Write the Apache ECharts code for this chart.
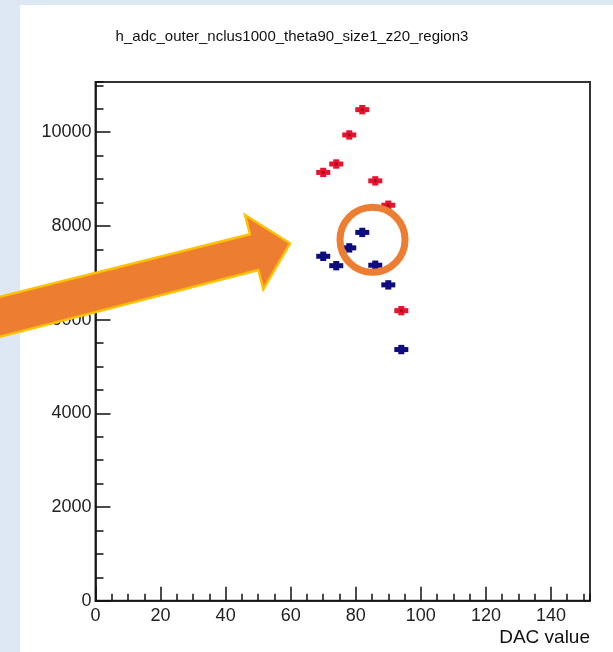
<!DOCTYPE html>
<html>
<head>
<meta charset="utf-8">
<script src="https://cdn.jsdelivr.net/npm/echarts@6/dist/echarts.min.js"></script>
<style>
  html, body { margin: 0; padding: 0; background: #dde8f4; }
  #chart { width: 613px; height: 652px; }
</style>
</head>
<body>
<div id="chart"></div>
<script>
// DAC scan points for the outer ADC histogram
const dacValues = [70, 74, 78, 82, 86, 90, 94];
const adcRed    = [9140, 9320, 9940, 10480, 8960, 8440, 6190];
const adcBlue   = [7350, 7150, 7530, 7860, 7160, 6740, 5360];

const xMajorTicks = [0, 20, 40, 60, 80, 100, 120, 140];
const yMajorTicks = [0, 2000, 4000, 6000, 8000, 10000];

const X_MAX = 152;
const Y_MAX = 11070;
const BIN_HALF = 2;   // horizontal error bar: half bin width
const Y_ERR = 100;    // vertical error bar half-length

const FONT = '"Liberation Sans", Arial, Helvetica, sans-serif';

function errorBars(color, dot) {
  return function (params, api) {
    const x = api.value(0), y = api.value(1);
    const c = api.coord([x, y]);
    const l = api.coord([x - BIN_HALF, y])[0];
    const r = api.coord([x + BIN_HALF, y])[0];
    const t = api.coord([x, y + Y_ERR])[1];
    const b = api.coord([x, y - Y_ERR])[1];
    const children = [
      { type: 'rect', shape: { x: l - 0.5, y: c[1] - 2.5, width: r - l + 1, height: 5 }, style: { fill: color } },
      { type: 'rect', shape: { x: c[0] - 3, y: t, width: 6, height: b - t }, style: { fill: color } }
    ];
    if (dot) {
      children.push({ type: 'circle', shape: { cx: c[0], cy: c[1], r: 1.6 }, style: { fill: dot } });
    }
    return { type: 'group', children: children };
  };
}

const chart = echarts.init(document.getElementById('chart'), null, { renderer: 'canvas' });

const axisBase = {
  type: 'value',
  gridIndex: 0,
  splitLine: { show: false },
  axisLine: { show: true, onZero: false, lineStyle: { color: '#111', width: 1.5 } }
};

chart.setOption({
  animation: false,
  backgroundColor: '#dde8f4',
  title: [{
    text: 'h_adc_outer_nclus1000_theta90_size1_z20_region3',
    left: 287,
    top: 24,
    textAlign: 'center',
    textStyle: { fontFamily: FONT, fontSize: 15, fontWeight: 'normal', color: '#111' }
  }],
  grid: {
    left: 95.5, top: 82, right: 23, bottom: 51.3,
    show: true, borderColor: '#333', borderWidth: 2, backgroundColor: 'transparent'
  },
  xAxis: [
    Object.assign({}, axisBase, {
      position: 'bottom', min: 0, max: X_MAX, interval: 20,
      name: 'DAC value', nameLocation: 'end', nameGap: 0,
      nameTextStyle: { fontFamily: FONT, fontSize: 19, color: '#111', align: 'right', verticalAlign: 'top', padding: [28, 0, 0, 0] },
      axisTick: { show: true, inside: true, length: 14, lineStyle: { color: '#111', width: 1.5 } },
      axisLabel: {
        show: true, margin: 6, showMaxLabel: false, fontFamily: FONT, fontSize: 18, color: '#222',
        formatter: v => (xMajorTicks.indexOf(v) >= 0 ? String(v) : '')
      }
    }),
    Object.assign({}, axisBase, {
      position: 'bottom', min: 0, max: X_MAX, interval: 5,
      axisLine: { show: false },
      axisTick: { show: true, inside: true, length: 7, lineStyle: { color: '#111', width: 1.5 } },
      axisLabel: { show: false }
    })
  ],
  yAxis: [
    Object.assign({}, axisBase, {
      position: 'left', min: 0, max: Y_MAX, interval: 2000,
      axisTick: { show: true, inside: true, length: 15, lineStyle: { color: '#111', width: 1.5 } },
      axisLabel: {
        show: true, margin: 4, showMaxLabel: false, fontFamily: FONT, fontSize: 18, color: '#222',
        formatter: v => (yMajorTicks.indexOf(v) >= 0 ? String(v) : '')
      }
    }),
    Object.assign({}, axisBase, {
      position: 'left', min: 0, max: Y_MAX, interval: 500,
      axisLine: { show: false },
      axisTick: { show: true, inside: true, length: 8, lineStyle: { color: '#111', width: 1.5 } },
      axisLabel: { show: false }
    })
  ],
  series: [
    {
      type: 'custom', name: 'red', xAxisIndex: 0, yAxisIndex: 0, z: 5,
      data: dacValues.map((d, i) => [d, adcRed[i]]),
      renderItem: errorBars('#e8132d', '#9a1028')
    },
    {
      type: 'custom', name: 'blue', xAxisIndex: 0, yAxisIndex: 0, z: 5,
      data: dacValues.map((d, i) => [d, adcBlue[i]]),
      renderItem: errorBars('#0d0d7e', null)
    }
  ],
  graphic: [
    // white canvas sheet
    { type: 'rect', left: 20, top: 5, z: -100, silent: true,
      shape: { width: 600, height: 660 }, style: { fill: '#ffffff' } },
    // highlight arrow
    { type: 'polygon', z: 100, silent: true,
      shape: { points: [[-20, 301.7], [250, 234.3], [245, 215], [290, 243.3], [263.3, 289.3], [258.3, 270], [-20, 342]] },
      style: { fill: '#ed7d31', stroke: '#ffc000', lineWidth: 2.5, lineJoin: 'miter' } },
    // highlight ring
    { type: 'circle', z: 100, silent: true,
      shape: { cx: 372.5, cy: 239.7, r: 32.5 },
      style: { fill: 'none', stroke: '#ed7d31', lineWidth: 7 } }
  ]
});
</script>
</body>
</html>
